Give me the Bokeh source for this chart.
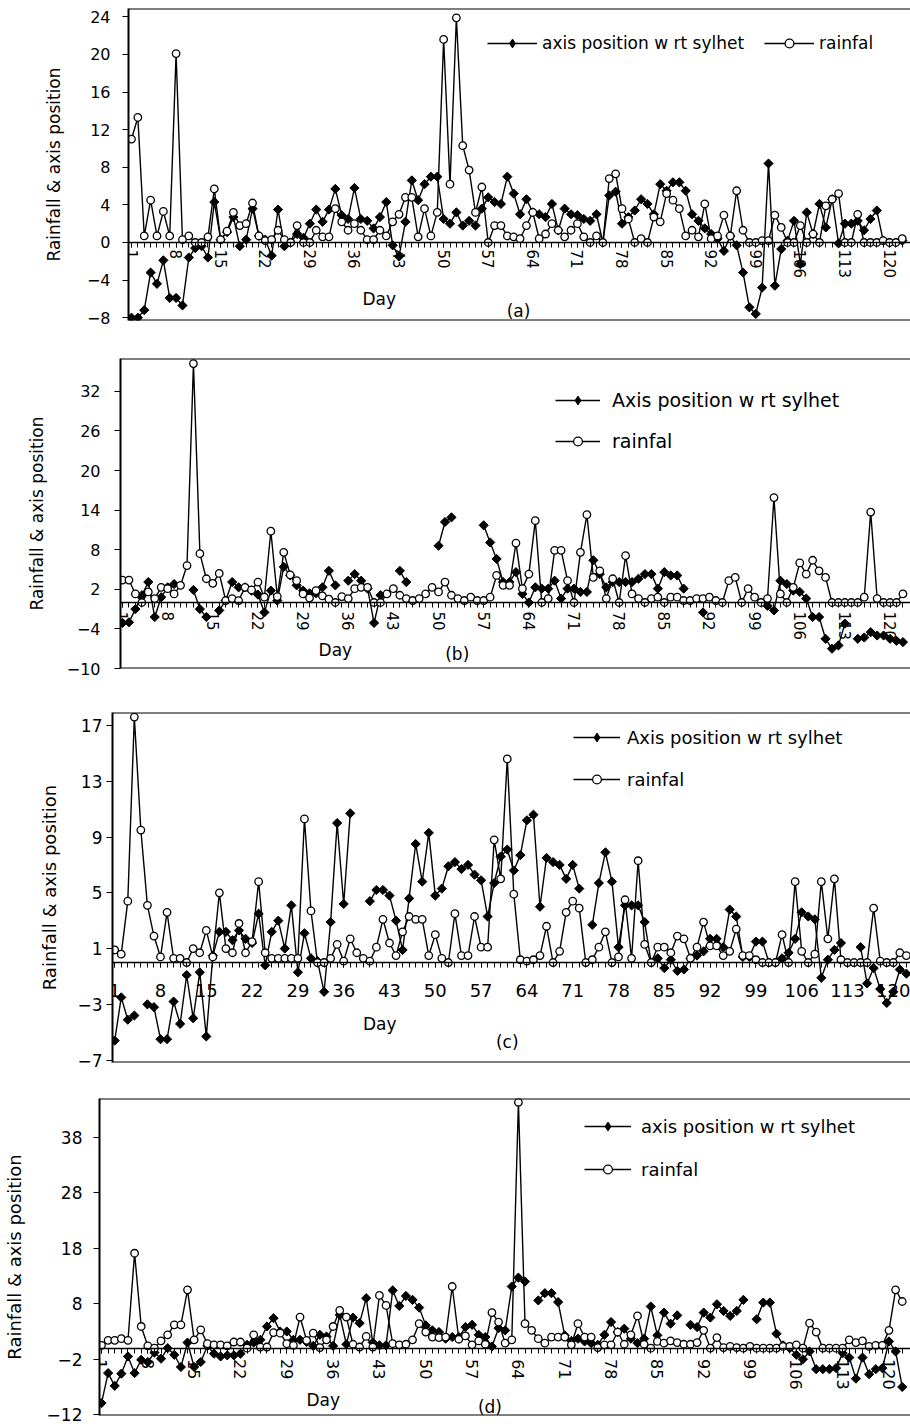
import math
from bokeh.plotting import figure
from bokeh.models import Range1d, FixedTicker, Legend, LegendItem, Span, Label
from bokeh.embed import file_html
from bokeh.resources import INLINE

nan = float("nan")

days = list(range(1, 123))
tick_days = [1, 8, 15, 22, 29, 36, 43, 50, 57, 64, 71, 78, 85, 92, 99, 106, 113, 120]
tick_labels = ["1", "8", "15", "22", "29", "36", "43", "50", "57", "64", "71", "78",
               "85", "92", "99", "106", "113", "120"]

y_title = "Rainfall & axis position"
x_title = "Day"
panel_tags = ["(a)", "(b)", "(c)", "(d)"]

a_names = ["axis position w rt sylhet", "rainfal"]
b_names = ["Axis position w rt sylhet", "rainfal"]
c_names = ["Axis position w rt sylhet", "rainfal"]
d_names = ["axis position w rt sylhet", "rainfal"]

a_yticks = [-8, -4, 0, 4, 8, 12, 16, 20, 24]
b_yticks = [-10, -4, 2, 8, 14, 20, 26, 32]
c_yticks = [-7, -3, 1, 5, 9, 13, 17]
d_yticks = [-12, -2, 8, 18, 28, 38]

a_axis = [-8.0, -8.0, -7.2, -3.2, -4.4, -1.9, -5.9, -5.9, -6.7, -1.6,
          -0.6, -0.4, -1.6, 4.3, 0.3, 1.1, 2.7, -0.4, 0.3, 3.6,
          0.7, 0.3, -1.4, 3.5, -0.4, 0.0, 0.9, 0.5, 2.0, 3.5,
          2.2, 3.5, 5.7, 2.9, 2.5, 5.8, 2.5, 2.3, 1.5, 2.7,
          4.3, -0.3, -1.5, 2.2, 6.6, 4.5, 6.2, 7.0, 7.0, 2.5,
          2.0, 3.2, 1.8, 2.3, 1.8, 3.6, 4.8, 4.3, 4.1, 7.0,
          5.2, 3.0, 4.6, 3.2, 3.0, 2.7, 4.1, 1.3, 3.6, 3.0,
          2.9, 2.5, 2.3, 3.0, 0.0, 5.0, 5.4, 2.0, 2.7, 3.4,
          4.6, 4.1, 3.0, 6.2, 5.5, 6.4, 6.4, 5.5, 3.0, 2.3,
          1.5, 0.9, 0.4, -0.9, 0.7, -0.3, -3.2, -6.9, -7.6, -4.8,
          8.4, -4.6, -0.7, 0.2, 2.3, -2.3, 3.2, 0.9, 4.1, 1.6,
          4.6, -0.1, 2.0, 2.0, 2.3, 1.3, 2.5, 3.4, 0.2, 0.0,
          0.0, 0.2]
a_rain = [11.0, 13.3, 0.7, 4.5, 0.7, 3.3, 0.7, 20.1, 0.3, 0.7,
          0.0, 0.0, 0.6, 5.7, 0.3, 1.2, 3.2, 1.8, 2.0, 4.2,
          0.7, 0.2, 0.3, 1.3, 0.3, 0.0, 1.8, 0.0, 0.0, 1.3,
          0.6, 0.6, 3.6, 2.2, 1.3, 2.0, 1.3, 0.3, 0.3, 1.3,
          0.7, 2.2, 3.0, 4.8, 4.8, 0.6, 3.6, 0.7, 3.2, 21.6,
          6.2, 23.9, 10.3, 7.7, 3.2, 5.9, 0.0, 1.8, 1.8, 0.7,
          0.6, 0.4, 1.8, 3.2, 0.4, 0.9, 2.0, 1.3, 0.6, 1.3,
          2.0, 0.6, 0.0, 0.7, 0.0, 6.8, 7.3, 3.6, 2.5, 0.0,
          0.4, 0.0, 2.7, 2.2, 5.2, 4.5, 3.6, 0.7, 1.3, 0.6,
          4.1, 0.4, 0.7, 2.9, 0.7, 5.5, 1.3, 0.0, 0.0, 0.2,
          0.2, 2.9, 1.6, 0.0, 0.0, 1.8, 0.0, 0.9, 0.0, 3.9,
          4.6, 5.2, 0.0, 0.0, 3.0, 0.0, 0.0, 0.0, 0.2, 0.0,
          0.0, 0.4]

b_axis = [-3.1, -3.0, -1.0, 1.1, 3.1, -2.2, 0.8, 2.3, 2.8, nan,
          nan, 1.9, -1.0, -2.2, nan, -1.2, 0.3, 3.1, 2.3, 2.3,
          1.8, 1.2, -1.5, 1.8, 0.3, 5.4, 4.1, 2.6, 1.8, 1.4,
          1.4, 2.3, 4.8, 2.6, nan, 3.3, 4.3, 3.3, 2.1, -3.1,
          1.1, nan, nan, 4.8, 3.1, nan, nan, nan, nan, 8.6,
          12.2, 12.9, nan, nan, nan, nan, 11.7, 9.1, 6.6, 3.1,
          3.1, 4.6, 1.3, 0.0, 2.3, 2.1, 2.1, 3.3, 0.6, 2.1,
          2.1, 1.6, 1.6, 6.4, 4.3, 2.3, 3.1, 3.1, 3.1, 3.1,
          3.6, 4.3, 4.3, 2.1, 4.6, 4.1, 4.1, 2.1, nan, nan,
          -1.5, nan, nan, nan, nan, nan, nan, nan, nan, 0.0,
          -0.5, -1.2, 3.3, 2.8, 1.8, 1.6, 0.6, -2.2, -2.2, -5.5,
          -7.0, -6.5, -3.2, nan, -5.5, -5.3, -4.5, -5.0, -5.0, -5.5,
          -5.8, -6.0]
b_rain = [3.4, 3.4, 1.3, 0.0, 1.6, 0.6, 2.3, 2.1, 1.3, 2.6,
          5.6, 36.2, 7.4, 3.6, 2.9, 4.4, 0.3, 0.6, 0.3, 2.3,
          1.9, 3.1, 0.8, 10.8, 0.9, 7.6, 4.2, 3.3, 1.3, 0.7,
          1.8, 1.0, 0.5, 0.0, 0.9, 0.6, 2.1, 2.3, 2.3, 0.0,
          0.0, 1.3, 2.1, 1.1, 0.6, 0.3, 0.6, 1.3, 2.3, 1.6,
          3.1, 1.1, 0.6, 0.3, 0.8, 0.3, 0.3, 0.8, 4.1, 2.6,
          2.6, 9.0, 2.1, 4.3, 12.4, 0.0, 0.6, 7.9, 7.9, 3.3,
          0.0, 7.6, 13.3, 3.8, 4.8, 0.6, 3.6, 0.0, 7.1, 1.3,
          0.6, 0.0, 0.6, 0.8, 0.0, 0.8, 0.8, 0.3, 0.3, 0.6,
          0.6, 0.8, 0.3, 0.0, 3.3, 3.8, 0.0, 2.1, 0.8, 0.0,
          0.6, 15.9, 1.3, 0.0, 2.3, 6.0, 4.3, 6.4, 4.8, 3.8,
          0.0, 0.0, 0.0, 0.0, 0.0, 0.8, 13.7, 0.6, 0.0, 0.0,
          0.0, 1.3]

c_axis = [-5.6, -2.5, -4.1, -3.8, nan, -3.0, -3.2, -5.5, -5.5, -2.8,
          -4.4, -0.9, -4.0, -0.7, -5.3, 0.5, 2.2, 2.2, 1.6, 2.3,
          1.7, 1.4, 3.5, -0.2, 2.2, 3.0, 1.0, 4.1, -0.7, 2.1,
          0.3, 0.1, -2.1, 2.9, 10.0, 4.2, 10.7, nan, nan, 4.4,
          5.2, 5.2, 4.8, 3.0, 0.9, 4.6, 8.5, 5.8, 9.3, 4.8,
          5.3, 6.9, 7.2, 6.7, 7.0, 6.3, 5.9, 3.3, 5.7, 7.6,
          8.1, 6.6, 7.7, 10.2, 10.6, 4.0, 7.5, 7.2, 7.0, 6.0,
          7.0, 5.3, nan, 2.7, 5.7, 7.9, 5.8, 1.1, 4.1, 4.1,
          4.1, 2.9, 0.0, 0.3, -0.4, 0.2, -0.6, -0.5, 0.3, 0.5,
          0.8, 1.7, 1.7, 1.1, 3.8, 3.3, 0.4, 0.4, 1.5, 1.5,
          0.0, 0.0, 0.3, 0.7, 1.7, 3.6, 3.3, 3.1, -1.1, 0.2,
          0.9, 1.4, nan, nan, 1.1, -1.5, -0.4, -1.9, -2.9, -2.1,
          -0.5, -0.8]
c_rain = [0.9, 0.6, 4.4, 17.6, 9.5, 4.1, 1.9, 0.4, 3.6, 0.3,
          0.3, 0.0, 1.0, 0.7, 2.3, 0.4, 5.0, 1.0, 0.7, 2.8,
          0.7, 1.5, 5.8, 0.7, 0.3, 0.3, 0.3, 0.3, 0.3, 10.3,
          3.7, 0.0, 0.0, 0.3, 1.3, 0.1, 1.7, 0.7, 0.3, 0.1,
          1.1, 3.1, 1.4, 0.5, 2.2, 3.3, 3.1, 3.1, 0.5, 2.0,
          0.3, 0.0, 3.5, 0.5, 0.5, 3.3, 1.1, 1.1, 8.8, 6.0,
          14.6, 4.9, 0.2, 0.1, 0.2, 0.5, 2.6, 0.0, 0.8, 3.6,
          4.4, 3.9, 0.0, 0.2, 1.1, 2.2, 0.0, 0.4, 4.5, 0.3,
          7.3, 1.3, 0.0, 1.1, 1.1, 0.7, 1.9, 1.7, 0.3, 1.1,
          2.9, 1.2, 1.2, 0.5, 0.8, 2.4, 0.5, 0.5, 0.2, 0.0,
          0.0, 0.0, 2.0, 0.0, 5.8, 0.8, 0.0, 0.6, 5.8, 1.7,
          6.0, 0.2, 0.0, 0.0, 0.0, 0.0, 3.9, 0.1, 0.0, 0.0,
          0.7, 0.5]

d_axis = [-9.9, -4.5, -6.8, -4.6, -1.5, -4.5, -2.1, -2.5, -0.8, -1.9,
          0.0, -1.2, -3.4, 1.0, -3.4, -2.5, 0.4, -1.0, -1.5, -1.3,
          -1.3, -1.0, 0.6, 1.0, 1.5, 3.9, 5.4, 3.0, 3.0, 1.5,
          1.5, 1.1, 0.4, 2.4, 2.1, 0.4, 6.0, 0.7, 5.5, 4.5,
          9.0, 1.0, 0.5, 0.5, 10.4, 7.6, 9.4, 8.7, 7.3, 4.1,
          3.2, 2.9, 1.7, 2.0, 2.0, 3.8, 4.2, 2.4, 2.0, 0.3,
          3.6, 3.2, 11.1, 12.7, 12.0, nan, 8.6, 9.9, 9.9, 8.3,
          2.3, 1.3, 1.7, 1.2, 0.9, 0.6, 2.4, 4.7, 2.9, 3.5,
          1.7, 0.9, 1.7, 7.5, 2.3, 6.4, 4.4, 5.9, nan, 4.2,
          3.8, 6.4, 5.5, 7.9, 6.7, 5.8, 6.7, 8.7, nan, 5.2,
          8.2, 8.2, 2.6, 0.5, 0.0, -1.2, -2.0, -0.6, -3.8, -3.8,
          -3.8, -3.6, -0.9, -1.7, -5.5, -1.7, -4.7, -3.8, -3.6, 1.2,
          -0.6, -7.0]
d_rain = [0.5, 1.4, 1.4, 1.7, 1.4, 17.1, 3.9, 0.4, 0.0, 1.3,
          2.4, 4.2, 4.2, 10.5, 1.5, 3.3, 0.8, 0.6, 0.6, 0.4,
          1.1, 1.1, 0.0, 2.4, 0.2, 0.2, 2.8, 2.7, 0.8, 0.5,
          5.6, 1.4, 2.7, 0.1, 1.5, 3.9, 6.8, 5.6, 0.7, 0.2,
          2.1, 0.2, 9.5, 7.7, 0.8, 0.6, 0.7, 1.5, 4.4, 2.9,
          2.0, 1.9, 2.0, 11.1, 1.6, 2.2, 0.6, 1.3, 0.7, 6.4,
          4.7, 0.9, 1.5, 44.3, 4.4, 3.2, 1.7, 0.9, 2.0, 2.0,
          2.0, 0.6, 4.4, 2.0, 2.0, 0.1, 0.6, 0.6, 2.9, 0.7,
          2.4, 5.8, 0.7, 0.0, 1.2, 0.9, 1.3, 1.0, 0.7, 0.7,
          1.0, 3.2, 0.0, 1.9, 0.1, 0.3, 0.1, 0.0, 0.3, 0.0,
          0.0, 0.0, 0.0, 0.3, 0.3, 0.6, 0.0, 4.5, 2.9, 0.0,
          0.0, 0.0, 0.0, 1.5, 1.0, 1.3, 0.3, 0.5, 0.5, 3.2,
          10.5, 8.4]

FONT = "DejaVu Sans"


def make_panel(ax_vals, rain_vals, names, yticks, tag, g):
    p = figure(width=910, height=g["h"],
               x_range=Range1d(g["x0"], g["x1"]), y_range=Range1d(g["y0"], g["y1"]),
               output_backend="svg", toolbar_location=None,
               min_border_left=g["left"], min_border_right=0,
               min_border_top=g["top"], min_border_bottom=g["bottom"])
    p.outline_line_color = None
    p.xgrid.grid_line_color = None
    p.ygrid.grid_line_color = None
    p.border_fill_color = "white"
    p.background_fill_color = "white"

    xa = p.xaxis[0]
    xa.fixed_location = 0
    xa.ticker = FixedTicker(ticks=tick_days, minor_ticks=days)
    xa.major_label_overrides = dict(zip(tick_days, tick_labels))
    xa.axis_line_color = "black"
    xa.axis_line_width = 1.3
    xa.major_tick_line_color = "black"
    xa.minor_tick_line_color = "black"
    xa.major_tick_in = 0
    xa.major_tick_out = 5
    xa.minor_tick_in = 0
    xa.minor_tick_out = 5
    xa.major_label_orientation = "vertical" if g["rot"] else "horizontal"
    xa.major_label_standoff = g["xstand"]
    xa.major_label_text_font = FONT
    xa.major_label_text_font_size = g["xfs"]
    xa.major_label_text_color = "black"

    ya = p.yaxis[0]
    ya.ticker = FixedTicker(ticks=yticks)
    ya.minor_tick_line_color = None
    ya.major_tick_in = 0
    ya.major_tick_out = 6
    ya.major_tick_line_color = "black"
    ya.axis_line_color = "black"
    ya.axis_line_width = 2
    ya.major_label_standoff = g["ystand"]
    ya.major_label_text_font = FONT
    ya.major_label_text_font_size = g["yfs"]
    ya.major_label_text_color = "black"
    ya.axis_label = y_title
    ya.axis_label_standoff = g["tstand"]
    ya.axis_label_text_font = FONT
    ya.axis_label_text_font_size = g["tfs"]
    ya.axis_label_text_font_style = "normal"
    ya.axis_label_text_color = "black"

    p.add_layout(Span(location=g["y1"], dimension="width", line_color="black", line_width=2))
    p.add_layout(Span(location=g["y0"], dimension="width", line_color="black", line_width=2))

    l1 = p.line(days, ax_vals, line_color="black", line_width=1.4)
    p.scatter(days, ax_vals, marker="square", angle=math.pi / 4, size=6.5,
              fill_color="black", line_color="black", line_width=1)
    l2 = p.line(days, rain_vals, line_color="black", line_width=1.4)
    s2 = p.scatter(days, rain_vals, marker="circle", size=7.5,
                   fill_color="white", line_color="black", line_width=1.3)
    # legend key for the diamond series (a single missing value, so nothing is drawn in the plot)
    k1 = p.scatter([nan], [nan], marker="diamond", size=11, fill_color="black", line_color="black")

    leg = Legend(items=[LegendItem(label=names[0], renderers=[l1, k1]),
                        LegendItem(label=names[1], renderers=[l2, s2])],
                 location=g["legloc"], orientation=g["legor"],
                 glyph_width=g["gw"], glyph_height=22, label_height=22,
                 label_standoff=g["gs"], spacing=g["sp"], padding=0, margin=0,
                 border_line_color=None, background_fill_alpha=0,
                 label_text_font=FONT, label_text_font_size=g["lfs"],
                 label_text_color="black")
    p.add_layout(leg)

    p.add_layout(Label(x=g["day"][0], y=g["day"][1], text=x_title, text_align="center",
                       text_baseline="middle", text_font=FONT, text_font_size="17px",
                       text_color="black"))
    p.add_layout(Label(x=g["tag"][0], y=g["tag"][1], text=tag, text_align="center",
                       text_baseline="middle", text_font=FONT, text_font_size="17px",
                       text_color="black"))
    return p


ga = dict(h=340, top=8, bottom=20, left=128, x0=0.529, x1=123.29, y0=-8.30, y1=24.89,
          rot=True, xstand=2, xfs="15px", ystand=12, yfs="16px", tstand=20, tfs="17px",
          legloc=(359, 266), legor="horizontal", gw=50, gs=5, sp=20, lfs="17px",
          day=(39.9, -5.96), tag=(61.75, -7.34))
gb = dict(h=355, top=18, bottom=27, left=120, x0=0.69, x1=123.17, y0=-10.0, y1=36.97,
          rot=True, xstand=4, xfs="15px", ystand=14, yfs="16px", tstand=17, tfs="17px",
          legloc=(435, 216), legor="vertical", gw=45, gs=12, sp=19, lfs="19px",
          day=(34.0, -7.27), tag=(52.9, -7.73))
gc = dict(h=385, top=17, bottom=18, left=112, x0=0.664, x1=122.63, y0=-7.17, y1=17.93,
          rot=False, xstand=16, xfs="18px", ystand=4, yfs="17px", tstand=14, tfs="18px",
          legloc=(461, 272), legor="vertical", gw=47, gs=7, sp=20, lfs="18px",
          day=(41.5, -4.38), tag=(61.0, -5.67))
gd = dict(h=348, top=18, bottom=13, left=98, x0=0.698, x1=123.25, y0=-12.14, y1=44.98,
          rot=True, xstand=6, xfs="16px", ystand=11, yfs="17px", tstand=19, tfs="18px",
          legloc=(485, 235), legor="vertical", gw=47, gs=10, sp=21, lfs="18px",
          day=(34.5, -9.35), tag=(59.7, -10.57))

pa = make_panel(a_axis, a_rain, a_names, a_yticks, panel_tags[0], ga)
pb = make_panel(b_axis, b_rain, b_names, b_yticks, panel_tags[1], gb)
pc = make_panel(c_axis, c_rain, c_names, c_yticks, panel_tags[2], gc)
pd = make_panel(d_axis, d_rain, d_names, d_yticks, panel_tags[3], gd)

# separate roots so that the panels keep their own left margins (no frame alignment)
open("out.html", "w").write(file_html([pa, pb, pc, pd], INLINE))
